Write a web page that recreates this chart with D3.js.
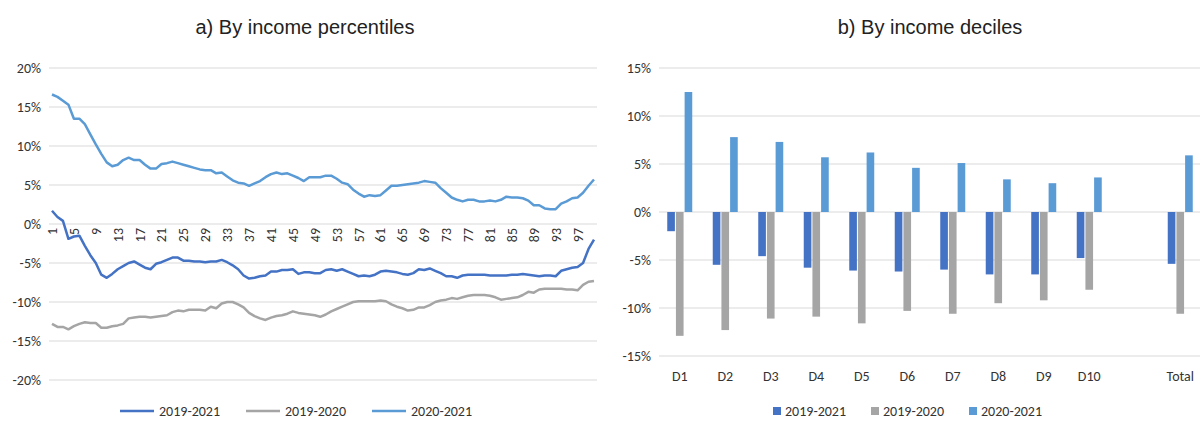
<!DOCTYPE html>
<html><head><meta charset="utf-8">
<script src="https://cdn.jsdelivr.net/npm/d3@7"></script>
<style>body{margin:0;background:#fff;font-family:Calibri,Carlito,"Liberation Sans",sans-serif}</style>
</head><body>
<script>
// Panel a: percentiles 1..100
const percentiles = d3.range(1, 101);
const s2019_2021 = [1.7,0.9,0.4,-1.9,-1.6,-1.5,-2.8,-4.0,-5.0,-6.5,-6.9,-6.4,-5.8,-5.4,-5.0,-4.8,-5.2,-5.6,-5.8,-5.1,-4.9,-4.6,-4.3,-4.3,-4.7,-4.7,-4.8,-4.8,-4.9,-4.8,-4.8,-4.6,-4.9,-5.3,-5.8,-6.6,-7.0,-6.9,-6.7,-6.6,-6.1,-6.1,-5.9,-5.9,-5.8,-6.4,-6.2,-6.2,-6.3,-6.3,-5.9,-5.8,-6.0,-5.8,-6.1,-6.4,-6.7,-6.6,-6.7,-6.5,-6.1,-6.0,-6.1,-6.2,-6.4,-6.5,-6.3,-5.8,-5.9,-5.7,-6.0,-6.3,-6.7,-6.7,-6.9,-6.6,-6.5,-6.5,-6.5,-6.5,-6.6,-6.6,-6.6,-6.6,-6.5,-6.5,-6.4,-6.5,-6.6,-6.7,-6.6,-6.6,-6.7,-6.0,-5.8,-5.6,-5.5,-5.0,-3.2,-2.0];
const s2019_2020 = [-12.8,-13.2,-13.2,-13.5,-13.1,-12.8,-12.6,-12.7,-12.7,-13.3,-13.3,-13.1,-13.0,-12.8,-12.1,-12.0,-11.9,-11.9,-12.0,-11.9,-11.8,-11.7,-11.3,-11.1,-11.2,-11.0,-11.0,-11.0,-11.1,-10.6,-10.8,-10.2,-10.0,-10.0,-10.3,-10.7,-11.4,-11.8,-12.1,-12.3,-12.0,-11.8,-11.7,-11.5,-11.2,-11.4,-11.5,-11.6,-11.7,-11.9,-11.6,-11.2,-10.9,-10.6,-10.3,-10.0,-9.9,-9.9,-9.9,-9.9,-9.8,-9.9,-10.3,-10.6,-10.8,-11.1,-11.0,-10.7,-10.7,-10.4,-10.0,-9.8,-9.7,-9.5,-9.6,-9.4,-9.2,-9.1,-9.1,-9.1,-9.2,-9.4,-9.7,-9.6,-9.5,-9.4,-9.1,-8.7,-8.8,-8.4,-8.3,-8.3,-8.3,-8.3,-8.4,-8.4,-8.5,-7.8,-7.4,-7.3];
const s2020_2021 = [16.6,16.3,15.8,15.3,13.5,13.5,12.8,11.5,10.2,9.0,7.9,7.4,7.6,8.2,8.5,8.2,8.2,7.6,7.1,7.1,7.7,7.8,8.0,7.8,7.6,7.4,7.2,7.0,6.9,6.9,6.5,6.6,6.1,5.6,5.3,5.2,4.9,5.2,5.5,6.0,6.4,6.6,6.4,6.5,6.2,5.9,5.5,6.0,6.0,6.0,6.2,6.2,5.8,5.3,5.1,4.4,3.9,3.5,3.7,3.6,3.7,4.3,4.9,4.9,5.0,5.1,5.2,5.3,5.5,5.4,5.3,4.6,4.0,3.4,3.1,2.9,3.1,3.1,2.9,2.9,3.0,2.9,3.1,3.5,3.4,3.4,3.3,3.0,2.4,2.4,2.0,1.9,1.9,2.6,2.9,3.3,3.4,4.0,4.9,5.7];
const leftTicks = [20,15,10,5,0,-5,-10,-15,-20];

// Panel b: deciles
const deciles = ["D1","D2","D3","D4","D5","D6","D7","D8","D9","D10","","Total"];
const d2019_2021 = [-2.0,-5.5,-4.6,-5.8,-6.1,-6.2,-6.0,-6.5,-6.5,-4.8,null,-5.4];
const d2019_2020 = [-12.9,-12.3,-11.1,-10.9,-11.6,-10.3,-10.6,-9.5,-9.2,-8.1,null,-10.6];
const d2020_2021 = [12.5,7.8,7.3,5.7,6.2,4.6,5.1,3.4,3.0,3.6,null,5.9];
const rightTicks = [15,10,5,0,-5,-10,-15];

const seriesNames = ["2019-2021","2019-2020","2020-2021"];
const colors = ["#4472C4","#A5A5A5","#5B9BD5"];

const svg = d3.select("body").append("svg").attr("width",1203).attr("height",421);

function gridAxis(g, y, ticks, x0, x1) {
  g.selectAll(".grid").data(ticks).enter().append("line")
    .attr("x1",x0).attr("x2",x1).attr("y1",d=>y(d)).attr("y2",d=>y(d))
    .attr("stroke","#d9d9d9").attr("stroke-width",1);
  g.selectAll(".tl").data(ticks).enter().append("text")
    .attr("x",x0-8).attr("y",d=>y(d)+5).attr("text-anchor","end")
    .attr("font-size",14).attr("fill","#333").text(d=>d+"%");
}

// ----- left chart
const xL = d3.scalePoint().domain(percentiles).range([52,594]);
const yL = d3.scaleLinear().domain([-20,20]).range([380,68]);
const left = svg.append("g");
gridAxis(left, yL, leftTicks, 49, 597);
left.append("text").attr("x",305).attr("y",34).attr("text-anchor","middle")
  .attr("font-size",21).attr("fill","#222").style("font-family","'Liberation Sans',Arial,sans-serif").style("font-size","20px").text("a) By income percentiles");
left.selectAll(".xl").data(percentiles.filter(d=>(d-1)%4===0)).enter().append("text")
  .attr("transform",d=>`translate(${xL(d)+5},${yL(0)+4}) rotate(-90)`)
  .attr("text-anchor","end").attr("font-size",14).attr("fill","#333").text(d=>d);
const line = d3.line().x((d,i)=>xL(percentiles[i])).y(d=>yL(d));
[s2019_2021,s2019_2020,s2020_2021].forEach((s,k)=>{
  left.append("path").datum(s).attr("d",line).attr("fill","none")
    .attr("stroke",colors[k]).attr("stroke-width",2.5).attr("stroke-linejoin","round");
});

// ----- right chart
const xR = d3.scaleBand().domain(deciles.map((d,i)=>i)).range([657,1203]);
const yR = d3.scaleLinear().domain([-15,15]).range([356,68]);
const right = svg.append("g");
gridAxis(right, yR, rightTicks, 659, 1200);
right.append("text").attr("x",930).attr("y",34).attr("text-anchor","middle")
  .attr("fill","#222").style("font-family","'Liberation Sans',Arial,sans-serif").style("font-size","20px").text("b) By income deciles");
const mid = xR.bandwidth()/2;
const xSub = d3.scaleBand().domain([0,1,2]).range([mid-12.5,mid+12.5]).paddingInner(0.12);
[d2019_2021,d2019_2020,d2020_2021].forEach((s,k)=>{
  right.selectAll(".b"+k).data(s.map((v,i)=>({v,i})).filter(d=>d.v!==null)).enter().append("rect")
    .attr("x",d=>xR(d.i)+xSub(k)).attr("width",xSub.bandwidth())
    .attr("y",d=>yR(Math.max(0,d.v))).attr("height",d=>Math.abs(yR(d.v)-yR(0)))
    .attr("fill",colors[k]);
});
right.selectAll(".xr").data(deciles).enter().append("text")
  .attr("x",(d,i)=>xR(i)+xR.bandwidth()/2).attr("y",381).attr("text-anchor","middle")
  .attr("font-size",14).attr("fill","#333").text(d=>d);

// ----- legends
const legL = svg.append("g").attr("transform","translate(120,411)");
seriesNames.forEach((n,k)=>{
  const g = legL.append("g").attr("transform",`translate(${k*126},0)`);
  g.append("line").attr("x1",0).attr("x2",34).attr("y1",0).attr("y2",0).attr("stroke",colors[k]).attr("stroke-width",2.5);
  g.append("text").attr("x",39).attr("y",5).attr("font-size",14).attr("fill","#333").text(n);
});
const legR = svg.append("g").attr("transform","translate(773,411)");
seriesNames.forEach((n,k)=>{
  const g = legR.append("g").attr("transform",`translate(${k*98},0)`);
  g.append("rect").attr("x",0).attr("y",-4).attr("width",8).attr("height",8).attr("fill",colors[k]);
  g.append("text").attr("x",12).attr("y",5).attr("font-size",14).attr("fill","#333").text(n);
});
</script>
</body></html>
